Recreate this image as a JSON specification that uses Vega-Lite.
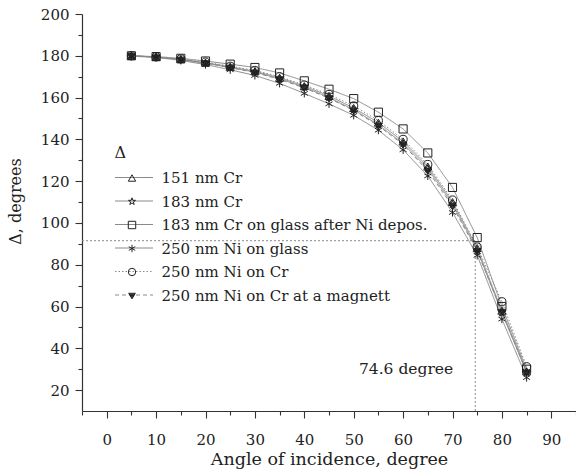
{
  "$schema": "https://vega.github.io/schema/vega-lite/v6.json",
  "width": 494,
  "height": 397,
  "autosize": "none",
  "padding": {"left": 82, "top": 14, "right": 0, "bottom": 62},
  "background": "white",
  "config": {
    "view": {"stroke": null},
    "font": "DejaVu Serif",
    "axis": {"labelFont": "DejaVu Serif", "titleFont": "DejaVu Serif", "titleFontWeight": "normal", "grid": false, "domainColor": "#333", "tickColor": "#333", "labelColor": "#222", "titleColor": "#222", "domainWidth": 1.2, "tickWidth": 1.1},
    "legend": {"labelFont": "DejaVu Serif", "titleFont": "DejaVu Serif"},
    "text": {"font": "DejaVu Serif"}
  },
  "datasets": {
    "main": [
      {"angle": 5, "delta": 180, "series": "151 nm Cr"},
      {"angle": 10, "delta": 179.4, "series": "151 nm Cr"},
      {"angle": 15, "delta": 178.3, "series": "151 nm Cr"},
      {"angle": 20, "delta": 176.7, "series": "151 nm Cr"},
      {"angle": 25, "delta": 174.7, "series": "151 nm Cr"},
      {"angle": 30, "delta": 172.6, "series": "151 nm Cr"},
      {"angle": 35, "delta": 169.5, "series": "151 nm Cr"},
      {"angle": 40, "delta": 165.5, "series": "151 nm Cr"},
      {"angle": 45, "delta": 160.8, "series": "151 nm Cr"},
      {"angle": 50, "delta": 155, "series": "151 nm Cr"},
      {"angle": 55, "delta": 148, "series": "151 nm Cr"},
      {"angle": 60, "delta": 139, "series": "151 nm Cr"},
      {"angle": 65, "delta": 127, "series": "151 nm Cr"},
      {"angle": 70, "delta": 110, "series": "151 nm Cr"},
      {"angle": 75, "delta": 88, "series": "151 nm Cr"},
      {"angle": 80, "delta": 58, "series": "151 nm Cr"},
      {"angle": 85, "delta": 29, "series": "151 nm Cr"},
      {"angle": 5, "delta": 180, "series": "183 nm Cr"},
      {"angle": 10, "delta": 179.4, "series": "183 nm Cr"},
      {"angle": 15, "delta": 178.2, "series": "183 nm Cr"},
      {"angle": 20, "delta": 176.5, "series": "183 nm Cr"},
      {"angle": 25, "delta": 174.4, "series": "183 nm Cr"},
      {"angle": 30, "delta": 172.2, "series": "183 nm Cr"},
      {"angle": 35, "delta": 169, "series": "183 nm Cr"},
      {"angle": 40, "delta": 165, "series": "183 nm Cr"},
      {"angle": 45, "delta": 160, "series": "183 nm Cr"},
      {"angle": 50, "delta": 154.2, "series": "183 nm Cr"},
      {"angle": 55, "delta": 147, "series": "183 nm Cr"},
      {"angle": 60, "delta": 138, "series": "183 nm Cr"},
      {"angle": 65, "delta": 126, "series": "183 nm Cr"},
      {"angle": 70, "delta": 109, "series": "183 nm Cr"},
      {"angle": 75, "delta": 87, "series": "183 nm Cr"},
      {"angle": 80, "delta": 57, "series": "183 nm Cr"},
      {"angle": 85, "delta": 28.5, "series": "183 nm Cr"},
      {"angle": 5, "delta": 180, "series": "183 nm Cr on glass after Ni depos."},
      {"angle": 10, "delta": 179.6, "series": "183 nm Cr on glass after Ni depos."},
      {"angle": 15, "delta": 178.8, "series": "183 nm Cr on glass after Ni depos."},
      {"angle": 20, "delta": 177.5, "series": "183 nm Cr on glass after Ni depos."},
      {"angle": 25, "delta": 176, "series": "183 nm Cr on glass after Ni depos."},
      {"angle": 30, "delta": 174.4, "series": "183 nm Cr on glass after Ni depos."},
      {"angle": 35, "delta": 171.8, "series": "183 nm Cr on glass after Ni depos."},
      {"angle": 40, "delta": 168, "series": "183 nm Cr on glass after Ni depos."},
      {"angle": 45, "delta": 164, "series": "183 nm Cr on glass after Ni depos."},
      {"angle": 50, "delta": 159.5, "series": "183 nm Cr on glass after Ni depos."},
      {"angle": 55, "delta": 153, "series": "183 nm Cr on glass after Ni depos."},
      {"angle": 60, "delta": 145, "series": "183 nm Cr on glass after Ni depos."},
      {"angle": 65, "delta": 133.5, "series": "183 nm Cr on glass after Ni depos."},
      {"angle": 70, "delta": 117, "series": "183 nm Cr on glass after Ni depos."},
      {"angle": 75, "delta": 93, "series": "183 nm Cr on glass after Ni depos."},
      {"angle": 80, "delta": 60, "series": "183 nm Cr on glass after Ni depos."},
      {"angle": 85, "delta": 30, "series": "183 nm Cr on glass after Ni depos."},
      {"angle": 5, "delta": 179.8, "series": "250 nm Ni  on glass"},
      {"angle": 10, "delta": 179.2, "series": "250 nm Ni  on glass"},
      {"angle": 15, "delta": 177.8, "series": "250 nm Ni  on glass"},
      {"angle": 20, "delta": 175.8, "series": "250 nm Ni  on glass"},
      {"angle": 25, "delta": 173.3, "series": "250 nm Ni  on glass"},
      {"angle": 30, "delta": 170.6, "series": "250 nm Ni  on glass"},
      {"angle": 35, "delta": 166.8, "series": "250 nm Ni  on glass"},
      {"angle": 40, "delta": 162, "series": "250 nm Ni  on glass"},
      {"angle": 45, "delta": 157, "series": "250 nm Ni  on glass"},
      {"angle": 50, "delta": 151.5, "series": "250 nm Ni  on glass"},
      {"angle": 55, "delta": 144.4, "series": "250 nm Ni  on glass"},
      {"angle": 60, "delta": 135, "series": "250 nm Ni  on glass"},
      {"angle": 65, "delta": 122.5, "series": "250 nm Ni  on glass"},
      {"angle": 70, "delta": 105, "series": "250 nm Ni  on glass"},
      {"angle": 75, "delta": 84.5, "series": "250 nm Ni  on glass"},
      {"angle": 80, "delta": 54, "series": "250 nm Ni  on glass"},
      {"angle": 85, "delta": 26, "series": "250 nm Ni  on glass"},
      {"angle": 5, "delta": 180, "series": "250 nm Ni on Cr"},
      {"angle": 10, "delta": 179.5, "series": "250 nm Ni on Cr"},
      {"angle": 15, "delta": 178.5, "series": "250 nm Ni on Cr"},
      {"angle": 20, "delta": 177, "series": "250 nm Ni on Cr"},
      {"angle": 25, "delta": 175, "series": "250 nm Ni on Cr"},
      {"angle": 30, "delta": 173, "series": "250 nm Ni on Cr"},
      {"angle": 35, "delta": 170, "series": "250 nm Ni on Cr"},
      {"angle": 40, "delta": 166, "series": "250 nm Ni on Cr"},
      {"angle": 45, "delta": 161.5, "series": "250 nm Ni on Cr"},
      {"angle": 50, "delta": 156, "series": "250 nm Ni on Cr"},
      {"angle": 55, "delta": 149, "series": "250 nm Ni on Cr"},
      {"angle": 60, "delta": 140, "series": "250 nm Ni on Cr"},
      {"angle": 65, "delta": 128, "series": "250 nm Ni on Cr"},
      {"angle": 70, "delta": 111, "series": "250 nm Ni on Cr"},
      {"angle": 75, "delta": 88.5, "series": "250 nm Ni on Cr"},
      {"angle": 80, "delta": 62.3, "series": "250 nm Ni on Cr"},
      {"angle": 85, "delta": 31.2, "series": "250 nm Ni on Cr"},
      {"angle": 5, "delta": 180, "series": "250 nm Ni on Cr at a magnett"},
      {"angle": 10, "delta": 179.3, "series": "250 nm Ni on Cr at a magnett"},
      {"angle": 15, "delta": 178.2, "series": "250 nm Ni on Cr at a magnett"},
      {"angle": 20, "delta": 176.5, "series": "250 nm Ni on Cr at a magnett"},
      {"angle": 25, "delta": 174.3, "series": "250 nm Ni on Cr at a magnett"},
      {"angle": 30, "delta": 172, "series": "250 nm Ni on Cr at a magnett"},
      {"angle": 35, "delta": 168.7, "series": "250 nm Ni on Cr at a magnett"},
      {"angle": 40, "delta": 164.6, "series": "250 nm Ni on Cr at a magnett"},
      {"angle": 45, "delta": 159.7, "series": "250 nm Ni on Cr at a magnett"},
      {"angle": 50, "delta": 153.8, "series": "250 nm Ni on Cr at a magnett"},
      {"angle": 55, "delta": 146.5, "series": "250 nm Ni on Cr at a magnett"},
      {"angle": 60, "delta": 137.5, "series": "250 nm Ni on Cr at a magnett"},
      {"angle": 65, "delta": 125, "series": "250 nm Ni on Cr at a magnett"},
      {"angle": 70, "delta": 108, "series": "250 nm Ni on Cr at a magnett"},
      {"angle": 75, "delta": 86.5, "series": "250 nm Ni on Cr at a magnett"},
      {"angle": 80, "delta": 57.5, "series": "250 nm Ni on Cr at a magnett"},
      {"angle": 85, "delta": 28.5, "series": "250 nm Ni on Cr at a magnett"}
    ],
    "guides": [
      {"angle": -5, "angle2": 74.6, "delta": 91.5, "delta2": 91.5},
      {"angle": 74.6, "angle2": 74.6, "delta": 10, "delta2": 91.5}
    ],
    "note": [
      {"angle": 60.6, "delta": 30.1, "text": "74.6 degree"}
    ]
  },
  "data": {"name": "main"},
  "encoding": {
    "x": {
      "field": "angle", "type": "quantitative",
      "scale": {"domain": [-5, 95], "nice": false, "zero": false},
      "axis": {
        "title": "Angle of incidence, degree",
        "values": [-5, 0, 5, 10, 15, 20, 25, 30, 35, 40, 45, 50, 55, 60, 65, 70, 75, 80, 85, 90, 95],
        "labelExpr": "datum.value % 10 === 0 ? datum.label : ''",
        "tickSize": {"condition": {"test": "datum.value % 10 === 0", "value": 7}, "value": 4},
        "labelFontSize": 15, "titleFontSize": 17.5, "labelPadding": 14, "titlePadding": 3
      }
    },
    "y": {
      "field": "delta", "type": "quantitative",
      "scale": {"domain": [10, 200], "nice": false, "zero": false},
      "axis": {
        "title": "Δ, degrees",
        "values": [20, 30, 40, 50, 60, 70, 80, 90, 100, 110, 120, 130, 140, 150, 160, 170, 180, 190, 200],
        "labelExpr": "datum.value % 20 === 0 ? datum.label : ''",
        "tickSize": {"condition": {"test": "datum.value % 20 === 0", "value": 7}, "value": 4},
        "labelFontSize": 15, "titleFontSize": 16, "labelPadding": 6, "titlePadding": 17, "titleY": 187
      }
    }
  },
  "layer": [
    {
      "data": {"name": "guides"},
      "mark": {"type": "rule", "color": "#888", "strokeDash": [2, 2], "strokeWidth": 1},
      "encoding": {
        "x2": {"field": "angle2"},
        "y2": {"field": "delta2"}
      }
    },
    {
      "mark": {"type": "line", "color": "#8a8a8a", "strokeWidth": 1},
      "encoding": {
        "strokeDash": {
          "field": "series", "type": "nominal",
          "scale": {
            "domain": ["151 nm Cr", "183 nm Cr", "183 nm Cr on glass after Ni depos.", "250 nm Ni  on glass", "250 nm Ni on Cr", "250 nm Ni on Cr at a magnett"],
            "range": [[1, 0], [1, 0], [1, 0], [1, 0], [1.5, 2], [4, 3]]
          },
          "legend": {
            "orient": "none", "legendX": 32.5, "legendY": 131, "padding": 0,
            "title": "Δ", "titleFontSize": 16, "titleFontWeight": "normal", "titleColor": "#222", "titlePadding": 7,
            "symbolType": "stroke", "symbolSize": 1444, "symbolStrokeColor": "#8a8a8a", "symbolStrokeWidth": 1,
            "labelExpr": "''", "labelFontSize": 15, "clipHeight": 19, "rowPadding": 4.5
          }
        }
      }
    },
    {
      "mark": {"type": "point", "strokeWidth": 1, "size": 66, "opacity": 1, "filled": false},
      "encoding": {
        "shape": {
          "field": "series", "type": "nominal",
          "scale": {
            "range": ["triangle-up", "M0,-1L0.235,-0.324L0.951,-0.309L0.38,0.124L0.588,0.809L0,0.4L-0.588,0.809L-0.38,0.124L-0.951,-0.309L-0.235,-0.324Z", "square", "M0,-1L0,1M-0.866,-0.5L0.866,0.5M-0.866,0.5L0.866,-0.5", "circle", "M-0.9,-0.6L0.9,-0.6L0,0.9ZM-0.78,-0.4L0.78,-0.4M-0.66,-0.2L0.66,-0.2M-0.54,0L0.54,0M-0.42,0.2L0.42,0.2M-0.3,0.4L0.3,0.4M-0.18,0.6L0.18,0.6"]
          },
          "legend": {
            "orient": "none", "legendX": 42.5, "legendY": 154.5, "padding": 0,
            "title": null,
            "symbolSize": 55, "symbolStrokeColor": "#222", "symbolStrokeWidth": 1, "symbolFillColor": "white",
            "labelFontSize": 15, "labelColor": "#222", "labelOffset": 22, "labelLimit": 400, "clipHeight": 19, "rowPadding": 4.5
          }
        },
        "stroke": {"value": "#222"}
      }
    },
    {
      "data": {"name": "note"},
      "mark": {"type": "text", "font": "DejaVu Serif", "fontSize": 15.5, "color": "#222", "align": "center", "baseline": "middle"},
      "encoding": {
        "text": {"field": "text"}
      }
    }
  ]
}
